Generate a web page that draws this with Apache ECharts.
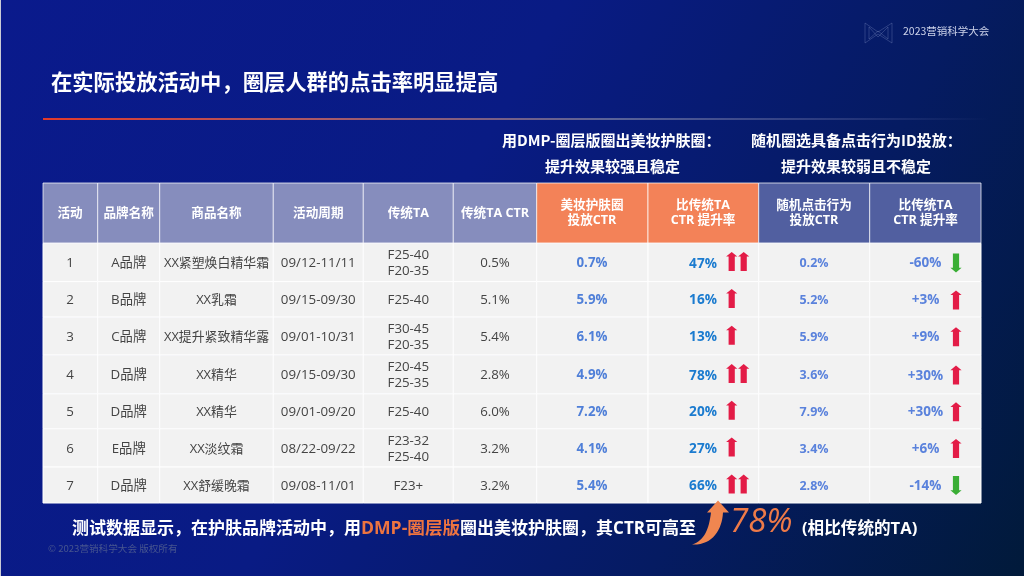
<!DOCTYPE html>
<html><head><meta charset="utf-8">
<style>html,body{margin:0;padding:0;background:#071a6e}#c{width:1024px;height:576px;filter:blur(0.35px)}</style>
<script src="https://cdn.jsdelivr.net/npm/echarts@6/dist/echarts.min.js"></script>
</head><body><div id="c"></div>
<script>
// ---- data ----
const headers = ['活动','品牌名称','商品名称','活动周期','传统TA','传统TA CTR','美妆护肤圈\n投放CTR','比传统TA\nCTR 提升率','随机点击行为\n投放CTR','比传统TA\nCTR 提升率'];
const activities = ['1','2','3','4','5','6','7'];
const brands = ['A品牌','B品牌','C品牌','D品牌','D品牌','E品牌','D品牌'];
const products = ['XX紧塑焕白精华霜','XX乳霜','XX提升紧致精华露','XX精华','XX精华','XX淡纹霜','XX舒缓晚霜'];
const periods = ['09/12-11/11','09/15-09/30','09/01-10/31','09/15-09/30','09/01-09/20','08/22-09/22','09/08-11/01'];
const traditionalTA = ['F25-40\nF20-35','F25-40','F30-45\nF20-35','F20-45\nF25-35','F25-40','F23-32\nF25-40','F23+'];
const traditionalCTR = ['0.5%','5.1%','5.4%','2.8%','6.0%','3.2%','3.2%'];
const dmpCTR = ['0.7%','5.9%','6.1%','4.9%','7.2%','4.1%','5.4%'];
const dmpLift = ['47%','16%','13%','78%','20%','27%','66%'];
const dmpArrows = [2,1,1,2,1,1,2];
const randomCTR = ['0.2%','5.2%','5.9%','3.6%','7.9%','3.4%','2.8%'];
const randomLift = ['-60%','+3%','+9%','+30%','+30%','+6%','-14%'];
const randomArrows = [-1,1,1,1,1,1,-1];

// ---- table layout (axis units) ----
const colEdges = [43,97.7,159.7,273.3,363.3,453.3,536.7,648,758.7,869.7,981];
const rowEdges = [183,243.3,281.7,317.3,355.3,394,429,467.3,503.3];
const headerFill = ['#868dbd','#868dbd','#868dbd','#868dbd','#868dbd','#868dbd','#f38258','#f38258','#515fa0','#515fa0'];
const textCX = [70,128.7,216.5,318.3,408.3,495,592,703,814,925.5];
const CJK = '"Noto Sans CJK SC","Noto Sans",sans-serif';
const MIX = '"Open Sans","Noto Sans CJK SC",sans-serif';

const columns = [activities,brands,products,periods,traditionalTA,traditionalCTR,dmpCTR,dmpLift,randomCTR,randomLift];
const cells = [];
headers.forEach((h,c)=>cells.push([c,0,h]));
columns.forEach((col,c)=>col.forEach((v,r)=>cells.push([c,r+1,v])));
const arrows = [];
dmpArrows.forEach((n,r)=>{ arrows.push([7,r+1,n]); });
randomArrows.forEach((n,r)=>{ arrows.push([9,r+1,n]); });

function cellStyle(c,r){
  if(r===0) return {fill:'#fff',fontSize:12.6,fontWeight:'bold',lineHeight:15};
  if(c===7) return {fill:'#1b7bcf',fontSize:13.6,fontWeight:'bold',lineHeight:16};
  if(c===6) return {fill:'#4f7fd8',fontSize:13.3,fontWeight:'bold',lineHeight:16};
  if(c===8) return {fill:'#5a82dc',fontSize:12.5,fontWeight:'bold',lineHeight:16};
  if(c===9) return {fill:'#5a82dc',fontSize:13.5,fontWeight:'bold',lineHeight:16};
  if(c===2) return {fill:'#444',fontSize:12.9,fontWeight:'normal',lineHeight:16};
  return {fill:'#444',fontSize:13.3,fontWeight:'normal',lineHeight:16};
}
function renderCell(p,api){
  const c=api.value(0), r=api.value(1), txt=cells[p.dataIndex][2];
  const a=api.coord([colEdges[c],rowEdges[r]]), b=api.coord([colEdges[c+1],rowEdges[r+1]]);
  const s=cellStyle(c,r);
  return {type:'group',children:[
    {type:'rect',shape:{x:a[0],y:a[1],width:b[0]-a[0],height:b[1]-a[1]},
     style:{fill:r===0?headerFill[c]:'#f2f2f2',stroke:r===0?'rgba(255,255,255,0.72)':'#fff',lineWidth:1}},
    {type:'text',style:Object.assign({text:txt,x:api.coord([textCX[c],0])[0],y:(a[1]+b[1])/2+(r===0?0:1.2),align:'center',verticalAlign:'middle',fontFamily:MIX},s)}
  ]};
}
function arrowPts(cx,cy,dir){
  const h=9.5*dir, hw=5.6, sw=3.1, n=3.6*dir;
  return [[cx,cy-h],[cx+hw,cy-h+n*1.3],[cx+sw,cy-h+n*1.3],[cx+sw,cy+h],[cx-sw,cy+h],[cx-sw,cy-h+n*1.3],[cx-hw,cy-h+n*1.3]];
}
function renderArrow(p,api){
  const c=api.value(0), r=api.value(1), n=api.value(2);
  const cy=api.coord([0,(rowEdges[r]+rowEdges[r+1])/2])[1];
  const kids=[];
  if(c===7){
    kids.push({type:'polygon',shape:{points:arrowPts(api.coord([731.7,0])[0],cy-1,1)},style:{fill:'#e31c47'}});
    if(n===2) kids.push({type:'polygon',shape:{points:arrowPts(api.coord([743.7,0])[0],cy-1,1)},style:{fill:'#e31c47'}});
  }else{
    kids.push({type:'polygon',shape:{points:arrowPts(api.coord([956,0])[0],cy+0.5,n)},style:{fill:n>0?'#e31c47':'#3aae35'}});
  }
  return {type:'group',children:kids};
}
function renderCurvedArrow(){
  return {type:'path',shape:{pathData:'M692,544 C705,540 709,528 711,512 L707,512 L718,500 L729,512 L723,512 C722,530 712,545 692,544 Z',x:692,y:500,width:37,height:45},style:{fill:'#f08650'}};
}
const logoLines=[
  [[865,23],[878,32],[892,23],[892,43],[878,34],[865,43],[865,23]],
  [[869,27],[878,37],[888,27],[888,39],[878,31],[869,39],[869,27]]
];
const option={
  animation:false,
  backgroundColor:{type:'linear',x:0,y:0,x2:1,y2:1,colorStops:[
    {offset:0,color:'#0a1a8c'},{offset:0.42,color:'#091b84'},{offset:0.72,color:'#051b62'},{offset:1,color:'#011a3a'}]},
  grid:{left:43,right:43,top:183,bottom:73},
  xAxis:{type:'value',min:43,max:981,show:false},
  yAxis:{type:'value',min:183,max:503.3,inverse:true,show:false},
  series:[
    {type:'custom',coordinateSystem:'cartesian2d',data:cells.map(d=>[d[0],d[1]]),renderItem:renderCell,silent:true,clip:false},
    {type:'custom',coordinateSystem:'cartesian2d',data:arrows,renderItem:renderArrow,silent:true,clip:false},
    {type:'custom',coordinateSystem:'none',data:[[0]],renderItem:renderCurvedArrow,silent:true,clip:false}
  ],
  graphic:[
    {type:'rect',shape:{x:0,y:0,width:1,height:576},style:{fill:'#c9cbd6'}},
    ...logoLines.map(p=>({type:'polyline',shape:{points:p},style:{stroke:'rgba(170,182,225,0.3)',lineWidth:0.8,fill:null}})),
    {type:'text',x:903,y:31,style:{text:'2023营销科学大会',fill:'#cdd3ea',fontSize:10.5,fontFamily:CJK,verticalAlign:'middle'}},
    {type:'text',x:51,y:82,style:{text:'在实际投放活动中，圈层人群的点击率明显提高',fill:'#fff',fontSize:21.3,fontWeight:'bold',fontFamily:CJK,verticalAlign:'middle'}},
    {type:'rect',shape:{x:43,y:118,width:947,height:2},style:{fill:{type:'linear',x:0,y:0,x2:1,y2:0,colorStops:[
      {offset:0,color:'#e23a2a'},{offset:0.3,color:'#a85a68'},{offset:0.6,color:'#5a6398'},{offset:1,color:'rgba(90,100,160,0)'}]}}},
    {type:'text',x:502,y:140,style:{text:'用DMP-圈层版圈出美妆护肤圈：',fill:'#fff',fontSize:15,fontWeight:'bold',fontFamily:CJK,verticalAlign:'middle'}},
    {type:'text',x:612.5,y:166,style:{text:'提升效果较强且稳定',fill:'#fff',fontSize:15,fontWeight:'bold',fontFamily:CJK,align:'center',verticalAlign:'middle'}},
    {type:'text',x:751,y:140,style:{text:'随机圈选具备点击行为ID投放：',fill:'#fff',fontSize:15,fontWeight:'bold',fontFamily:CJK,verticalAlign:'middle'}},
    {type:'text',x:856,y:166,style:{text:'提升效果较弱且不稳定',fill:'#fff',fontSize:15,fontWeight:'bold',fontFamily:CJK,align:'center',verticalAlign:'middle'}},
    {type:'text',x:72,y:529,style:{text:'{w|测试数据显示，在护肤品牌活动中，用}{o|DMP-圈层版}{w|圈出美妆护肤圈，其CTR可高至}',verticalAlign:'middle',rich:{
      w:{fill:'#fff',fontSize:17,fontWeight:'bold',fontFamily:MIX},
      o:{fill:'#ee7440',fontSize:17.6,fontWeight:'bold',fontFamily:MIX}}}},
    {type:'text',x:730,y:523,style:{text:'78%',fill:'#ee7a48',fontSize:33,fontStyle:'italic',fontFamily:'"Open Sans",sans-serif',verticalAlign:'middle'}},
    {type:'text',x:802,y:529,style:{text:'(相比传统的TA)',fill:'#fff',fontSize:16.6,fontWeight:'bold',fontFamily:MIX,verticalAlign:'middle'}},
    {type:'text',x:48,y:548,style:{text:'© 2023营销科学大会 版权所有',fill:'#47558f',fontSize:9.6,fontFamily:CJK,verticalAlign:'middle'}}
  ]
};
echarts.init(document.getElementById('c')).setOption(option);
</script></body></html>
